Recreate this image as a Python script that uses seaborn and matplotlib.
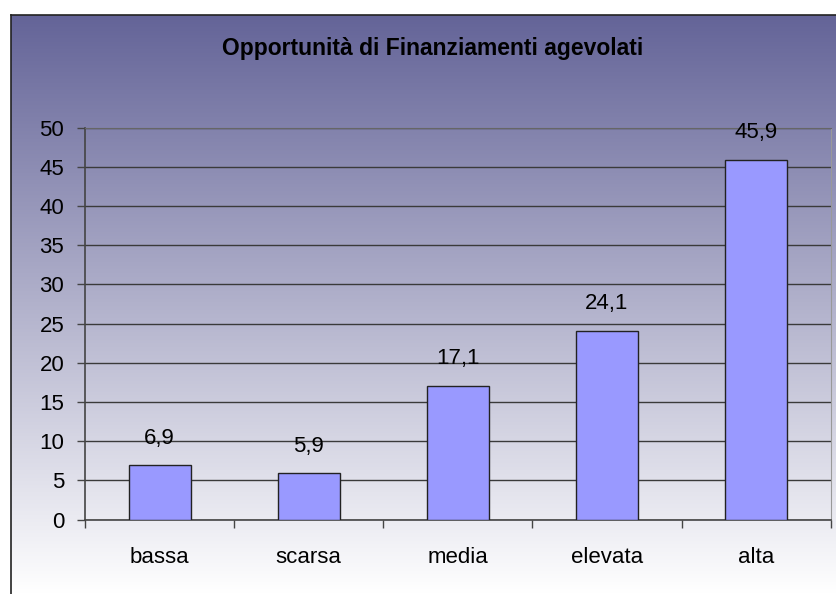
import numpy as np
import pandas as pd
import matplotlib
matplotlib.use("Agg")
import matplotlib.pyplot as plt
import seaborn as sns

categorie = ["bassa", "scarsa", "media", "elevata", "alta"]
valori = [6.9, 5.9, 17.1, 24.1, 45.9]
titolo = "Opportunità di Finanziamenti agevolati"

df = pd.DataFrame({"categoria": categorie, "valore": valori})

sns.set_style("white")
plt.rcParams["font.family"] = ["Liberation Sans", "DejaVu Sans"]
plt.rcParams["text.color"] = "black"
plt.rcParams["xtick.labelcolor"] = "black"
plt.rcParams["ytick.labelcolor"] = "black"

fig = plt.figure(figsize=(8.36, 5.94), dpi=100)
W, H = 836, 594

# sfondo sfumato del grafico (riquadro)
bg = fig.add_axes([11 / W, 0, 1 - 11 / W, 1 - 15 / H])
grad = np.linspace(0, 1, 256)[:, None]
top = np.array([100, 100, 152]) / 255
bot = np.array([255, 255, 255]) / 255
img = top[None, None, :] * (1 - grad[:, :, None]) + bot[None, None, :] * grad[:, :, None]
bg.imshow(img, aspect="auto", extent=[0, 1, 0, 1], origin="upper")
bg.set_xlim(0, 1)
bg.set_ylim(0, 1)
bg.set_xticks([])
bg.set_yticks([])
for s in ["right", "bottom"]:
    bg.spines[s].set_visible(False)
for s in ["left", "top"]:
    bg.spines[s].set_color("#222222")
    bg.spines[s].set_linewidth(1.2)

fig.text(433 / W, 1 - 48 / H, titolo, ha="center", va="center",
         fontsize=16.5, fontweight="bold", color="black")

ax = fig.add_axes([85 / W, 1 - 519.5 / H, (830.7 - 85) / W, (519.5 - 127.7) / H])
ax.patch.set_alpha(0)
sns.barplot(data=df, x="categoria", y="valore", ax=ax, color="#9999ff",
            width=0.415, edgecolor="#222222", linewidth=1, saturation=1, zorder=3)

ax.set_ylim(0, 50)
ax.set_xlim(-0.5, 4.5)
ax.set_yticks(range(0, 51, 5))
ax.yaxis.grid(True, color="#3a3a3a", linewidth=1, zorder=0)
ax.set_axisbelow(True)
ax.set_xlabel("")
ax.set_ylabel("")

ax.set_xticks(range(5))
ax.set_xticklabels(categorie)
ax.set_xticks(np.arange(-0.5, 5, 1), minor=True)
ax.tick_params(axis="x", which="major", length=0, pad=20, labelsize=16)
ax.tick_params(axis="x", which="minor", length=6, width=1, color="#444444", direction="out")
ax.tick_params(axis="y", length=6, width=1, color="#444444", direction="out",
               pad=9, labelsize=16)
ax.xaxis.set_ticks_position("bottom")
ax.yaxis.set_ticks_position("left")

for s in ["left", "bottom"]:
    ax.spines[s].set_color("#444444")
    ax.spines[s].set_linewidth(1.2)
ax.spines["top"].set_color("#666666")
ax.spines["right"].set_color("#999999")

for i, v in enumerate(valori):
    ax.annotate(f"{v:.1f}".replace(".", ","), (i, v), xytext=(0, 19.5),
                textcoords="offset points", ha="center", va="center",
                fontsize=16, color="black")

fig.savefig("out.png", dpi=100)
